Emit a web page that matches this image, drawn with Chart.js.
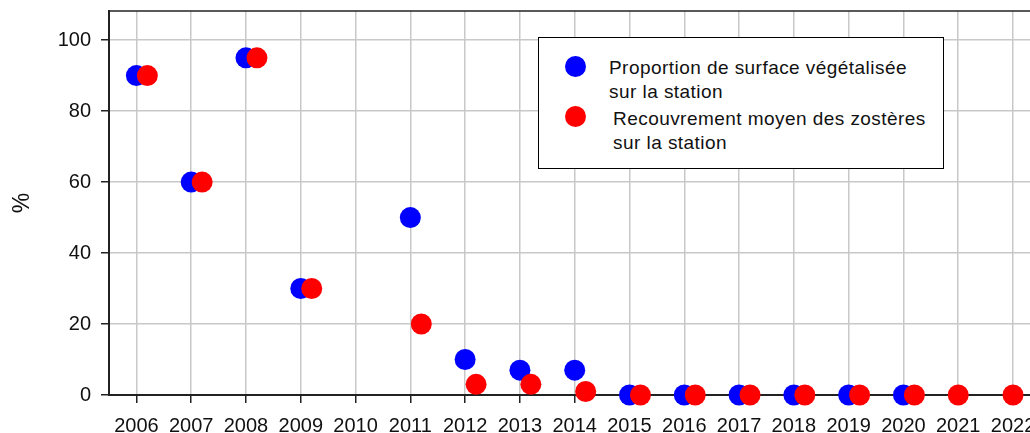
<!DOCTYPE html>
<html lang="fr">
<head>
    <meta charset="UTF-8">
    <title>Herbier de zostères - station</title>
    <script src="https://cdn.jsdelivr.net/npm/chart.js"></script>
    <style>
        html, body {
            margin: 0;
            padding: 0;
            background: #fff;
            overflow: hidden;
        }
        .wrap {
            position: relative;
            width: 1030px;
            height: 433px;
        }
        .legend {
            position: absolute;
            left: 538px;
            top: 37px;
            width: 406px;
            height: 132px;
            box-sizing: border-box;
            border: 1.5px solid #000;
            background: #fff;
            font-family: "Liberation Sans", Arial, sans-serif;
            font-size: 19px;
            line-height: 24px;
            letter-spacing: 0.45px;
            color: #111;
        }
        .legend .dot {
            position: absolute;
            width: 21px;
            height: 21px;
            border-radius: 50%;
        }
        .legend .txt {
            position: absolute;
            white-space: nowrap;
        }
    </style>
</head>
<body>
    <div class="wrap">
        <canvas id="chart" width="1030" height="433"></canvas>
        <div class="legend">
            <div class="dot" style="left:26px; top:18px; background:#0000ff;"></div>
            <div class="txt" style="left:70px; top:18px;">Proportion de surface végétalisée<br>sur la station</div>
            <div class="dot" style="left:26px; top:68px; background:#ff0000;"></div>
            <div class="txt" style="left:74px; top:69px;">Recouvrement moyen des zostères<br>sur la station</div>
        </div>
    </div>

    <script>
        // Data
        const years = [2006, 2007, 2008, 2009, 2010, 2011, 2012, 2013, 2014, 2015, 2016, 2017, 2018, 2019, 2020, 2021, 2022];
        // Proportion de surface végétalisée sur la station (%)
        const surfaceVeg = [90, 60, 95, 30, null, 50, 10, 7, 7, 0, 0, 0, 0, 0, 0, null, null];
        // Recouvrement moyen des zostères sur la station (%)
        const recouvrement = [90, 60, 95, 30, null, 20, 3, 3, 1, 0, 0, 0, 0, 0, 0, 0, 0];
        const yTicks = [0, 20, 40, 60, 80, 100];

        const tickFont = { family: "'Liberation Sans', Arial, sans-serif", size: 20 };

        // red dots are shifted a bit right of the year when a blue dot shares it
        const bluePoints = years.map((y, i) => ({ x: y, y: surfaceVeg[i] })).filter(p => p.y !== null);
        const redPoints = years.map((y, i) => ({
            x: surfaceVeg[i] !== null ? y + 0.2 : y,
            y: recouvrement[i]
        })).filter(p => p.y !== null);

        // no extra padding from edge labels, the plot is cut at the right edge
        function noPad(scale) {
            scale.paddingTop = 0;
            scale.paddingBottom = 0;
            scale.paddingLeft = 0;
            scale.paddingRight = 0;
        }

        // top frame line of the plot area
        const frameTop = {
            id: 'frameTop',
            beforeDatasetsDraw(chart) {
                const { ctx, chartArea } = chart;
                ctx.save();
                ctx.strokeStyle = '#222';
                ctx.lineWidth = 1.5;
                ctx.beginPath();
                ctx.moveTo(chartArea.left, chartArea.top);
                ctx.lineTo(chartArea.right, chartArea.top);
                ctx.stroke();
                ctx.restore();
            }
        };

        new Chart(document.getElementById('chart'), {
            type: 'scatter',
            data: {
                datasets: [
                    {
                        label: 'Recouvrement moyen des zostères sur la station',
                        data: redPoints,
                        backgroundColor: '#ff0000',
                        borderColor: '#ff0000',
                        pointRadius: 10.5,
                        pointHoverRadius: 10.5,
                        borderWidth: 0,
                        clip: false,
                        order: 0
                    },
                    {
                        label: 'Proportion de surface végétalisée sur la station',
                        data: bluePoints,
                        backgroundColor: '#0000ff',
                        borderColor: '#0000ff',
                        pointRadius: 10.5,
                        pointHoverRadius: 10.5,
                        borderWidth: 0,
                        clip: false,
                        order: 1
                    }
                ]
            },
            options: {
                responsive: false,
                animation: false,
                layout: {
                    autoPadding: false,
                    padding: { top: 11, right: 0, left: 0, bottom: 0 }
                },
                plugins: {
                    legend: { display: false },
                    tooltip: { enabled: false }
                },
                scales: {
                    x: {
                        type: 'linear',
                        min: 2005.5,
                        max: 2022.31,
                        afterBuildTicks: scale => { scale.ticks = years.map(v => ({ value: v })); },
                        afterFit: scale => { scale.height = 38; noPad(scale); },
                        grid: {
                            color: '#c8c8c8',
                            lineWidth: 1.5,
                            tickColor: '#222',
                            tickLength: 8
                        },
                        border: { color: '#222', width: 2 },
                        ticks: {
                            font: tickFont,
                            color: '#111',
                            padding: 11,
                            maxRotation: 0,
                            autoSkip: false,
                            callback: v => String(v)
                        }
                    },
                    y: {
                        min: 0,
                        max: 108.2,
                        afterBuildTicks: scale => { scale.ticks = yTicks.map(v => ({ value: v })); },
                        afterFit: scale => { scale.width = 109; noPad(scale); },
                        grid: {
                            color: '#c8c8c8',
                            lineWidth: 1.5,
                            tickColor: '#222',
                            tickLength: 8
                        },
                        border: { color: '#222', width: 2 },
                        ticks: {
                            font: tickFont,
                            color: '#111',
                            padding: 10
                        },
                        title: {
                            display: true,
                            text: '%',
                            font: { family: "'Liberation Sans', Arial, sans-serif", size: 23 },
                            color: '#111',
                            padding: { top: 9, bottom: 4 }
                        }
                    }
                }
            },
            plugins: [frameTop]
        });
    </script>
</body>
</html>
